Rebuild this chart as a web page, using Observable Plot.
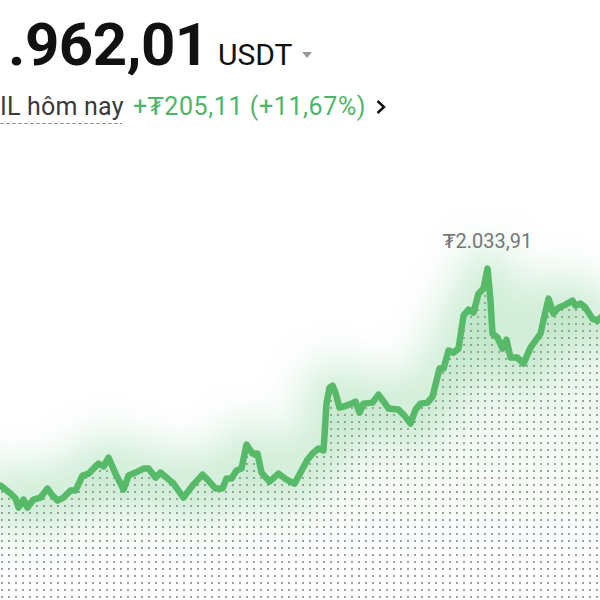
<!DOCTYPE html>
<html><head><meta charset="utf-8">
<script src="https://cdn.jsdelivr.net/npm/d3@7"></script>
<script src="https://cdn.jsdelivr.net/npm/@observablehq/plot@0.6"></script>
<style>
html,body{margin:0;padding:0;background:#fff;}
#root{position:relative;width:600px;height:600px;overflow:hidden;font-family:Roboto,"DejaVu Sans",sans-serif;}
#root div{position:absolute;white-space:nowrap;line-height:1;}
#big{left:8px;top:14.5px;font-size:60px;font-weight:700;color:#111;letter-spacing:-0.5px;}
#unit{left:218px;top:40px;font-size:30px;color:#111;}
#tri{left:302px;top:52px;width:0;height:0;border-left:5px solid transparent;border-right:5px solid transparent;border-top:6px solid #9a9a9a;}
#lab{left:0px;top:94px;font-size:25px;color:#3a3a3a;letter-spacing:0.2px;}
#dash{left:0px;top:123px;width:122px;height:1px;background:repeating-linear-gradient(90deg,#9a9a9a 0 4px,transparent 4px 6px);}
#chg{left:133px;top:94px;font-size:25px;color:#4fb468;letter-spacing:0.6px;}
#chev{position:absolute;left:375px;top:99px;}
#chart{left:0;top:140px;}
</style></head><body>
<div id="root">
  <div id="big">.962,01</div>
  <div id="unit">USDT</div>
  <div id="tri"></div>
  <div id="lab">IL hôm nay</div>
  <div id="dash"></div>
  <div id="chg">+₮205,11 (+11,67%)</div>
  <svg id="chev" width="12" height="16"><polyline points="2.5,2 9,8 2.5,14" fill="none" stroke="#111" stroke-width="2.4"/></svg>
  <div id="chart"></div>
</div>
<script>
// time steps (arbitrary units across the visible window)
const t = [0,5,10,15,18,23,27,33,40,47,52,57,63,70,75,82,88,93,98,103,108,115,123,128,135,143,148,155,160,167,173,183,192,202,208,215,222,226,231,236,241,246,252,257,261,269,278,286,294,300,307,312,318,323,326,329,332,335,339,343,351,355,359,363,372,378,384,388,398,404,410,415,420,427,432,436,439,443,448,453,458,463,468,473,478,483,487,490,492,497,502,506,510,517,523,530,535,540,544,548,553,558,565,572,575,580,585,592,597,600];
// price (USDT)
const price = [1756.15,1751.03,1745.91,1739.51,1727.99,1738.23,1727.99,1738.23,1740.79,1752.31,1743.35,1736.95,1740.79,1749.75,1749.75,1768.95,1771.51,1777.91,1784.31,1780.47,1791.99,1771.51,1751.03,1768.95,1772.79,1777.91,1777.91,1766.39,1772.79,1765.11,1758.71,1740.79,1756.15,1770.23,1762.55,1752.31,1752.31,1765.11,1765.11,1775.35,1777.91,1808.63,1797.11,1797.11,1772.79,1761.27,1771.51,1763.83,1758.71,1772.79,1789.43,1797.11,1803.51,1800.95,1861.11,1881.59,1884.15,1875.19,1855.99,1857.27,1861.11,1863.67,1849.59,1861.11,1862.39,1872.63,1862.39,1854.71,1853.43,1845.75,1835.51,1853.43,1861.11,1862.39,1870.07,1890.55,1905.91,1905.91,1928.95,1926.39,1931.51,1973.75,1981.43,1977.59,2001.91,2008.31,2033.91,1992.95,1950.71,1945.59,1931.51,1943.03,1919.99,1919.99,1912.31,1932.79,1941.75,1950.71,1973.75,1995.51,1976.31,1983.99,1987.83,1992.95,1986.55,1989.11,1983.99,1969.91,1967.35,1971.19];
const peakLabel = ["₮2.033,91"];
const yDomain = [1609, 2198];

const data = t.map((ti, i) => ({t: ti, v: price[i]}));
const peak = data.reduce((a, b) => (b.v > a.v ? b : a));
const green = "#56ba69";

const chart = Plot.plot({
  width: 600, height: 460, margin: 0,
  style: {fontFamily: 'Roboto, "DejaVu Sans", sans-serif', background: "transparent", overflow: "visible"},
  x: {domain: [0, 600], axis: null},
  y: {domain: yDomain, axis: null},
  marks: [
    Plot.areaY(data, {x: "t", y1: () => yDomain[0], y2: "v", fill: "url(#glowgrad)"}),
    Plot.line(data, {x: "t", y: "v", stroke: "#6cc87e", strokeWidth: 50, strokeOpacity: 0.32, strokeLinejoin: "round"}),
    Plot.areaY(data, {x: "t", y1: () => yDomain[0], y2: "v", fill: "url(#dots)"}),
    Plot.line(data, {x: "t", y: "v", stroke: green, strokeWidth: 6.5, strokeLinejoin: "round", strokeLinecap: "round"}),
    Plot.text([peak], {x: "t", y: "v", text: () => peakLabel[0], dy: -21, lineAnchor: "bottom", fill: "#777", fontSize: 20})
  ]
});

const ns = "http://www.w3.org/2000/svg";
const defs = document.createElementNS(ns, "defs");
defs.innerHTML = `
<filter id="blur" filterUnits="userSpaceOnUse" x="-100" y="-100" width="800" height="700"><feGaussianBlur stdDeviation="20"/></filter>
<linearGradient id="glowgrad" gradientUnits="userSpaceOnUse" x1="0" y1="120" x2="0" y2="440">
  <stop offset="0" stop-color="#6cc87e" stop-opacity="0.2"/>
  <stop offset="1" stop-color="#6cc87e" stop-opacity="0"/>
</linearGradient>
<pattern id="dots" patternUnits="userSpaceOnUse" width="7" height="7" x="0" y="0">
  <rect x="1" y="1" width="2" height="2" fill="#9aa29a" shape-rendering="crispEdges"/>
</pattern>`;
chart.insertBefore(defs, chart.firstChild);
const lines = chart.querySelectorAll('g[aria-label="line"]');
if (lines.length) lines[0].setAttribute("filter", "url(#blur)");
document.getElementById("chart").appendChild(chart);
</script>
</body></html>
